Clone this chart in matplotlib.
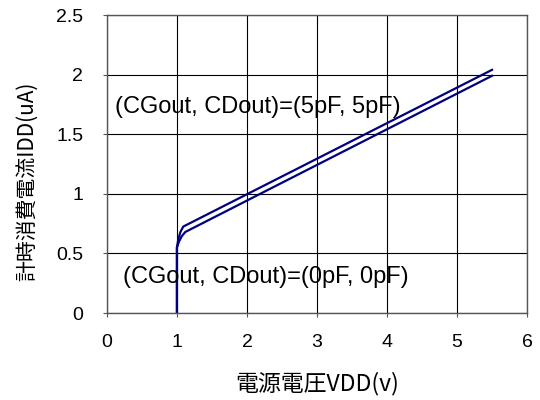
import numpy as np
import matplotlib.pyplot as plt

plt.rcParams['font.family'] = ['Liberation Sans', 'Noto Sans CJK JP', 'DejaVu Sans']

# 5pF curve (upper) and 0pF curve (lower)
vdd_5p = [1.0, 1.0, 1.02, 1.05, 1.09, 5.5]
idd_5p = [0.0, 0.55, 0.62, 0.68, 0.725, 2.04]
vdd_0p = [1.0, 1.0, 1.03, 1.07, 1.12, 5.5]
idd_0p = [0.0, 0.55, 0.60, 0.645, 0.68, 1.99]

xticks = [0, 1, 2, 3, 4, 5, 6]
yticks = [0, 0.5, 1, 1.5, 2, 2.5]
ytick_labels = ['0', '0.5', '1', '1.5', '2', '2.5']

fig = plt.figure(figsize=(5.4, 4.0), dpi=100)
ax = fig.add_axes([0.198, 0.2175, 0.778, 0.745])

ax.plot(vdd_5p, idd_5p, color='#000080', lw=1.6)
ax.plot(vdd_0p, idd_0p, color='#000080', lw=1.6)

ax.set_xlim(0, 6)
ax.set_ylim(0, 2.5)
ax.set_xticks(xticks)
ax.set_yticks(yticks)
ax.set_yticklabels(ytick_labels)
ax.grid(True, color='black', lw=0.8)
for s in ax.spines.values():
    s.set_color('#555555')
    s.set_linewidth(1.0)
ax.tick_params(axis='both', direction='out', length=3, color='#555555', labelsize=14)
ax.tick_params(axis='x', pad=12)
ax.tick_params(axis='y', pad=14)

ax.text(0.11, 1.73, '(CGout, CDout)=(5pF, 5pF)', fontsize=17, va='center', ha='left')
ax.text(0.23, 0.30, '(CGout, CDout)=(0pF, 0pF)', fontsize=17, va='center', ha='left')

cjk = ['Noto Sans CJK JP', 'DejaVu Sans']
ax.set_xlabel('電源電圧VDD(v)', fontsize=16.5, family=cjk, labelpad=15)
ax.set_ylabel('計時消費電流IDD(uA)', fontsize=15, family=cjk)
ax.yaxis.set_label_coords(-0.165, 0.443)

fig.savefig('out.png', dpi=100)
